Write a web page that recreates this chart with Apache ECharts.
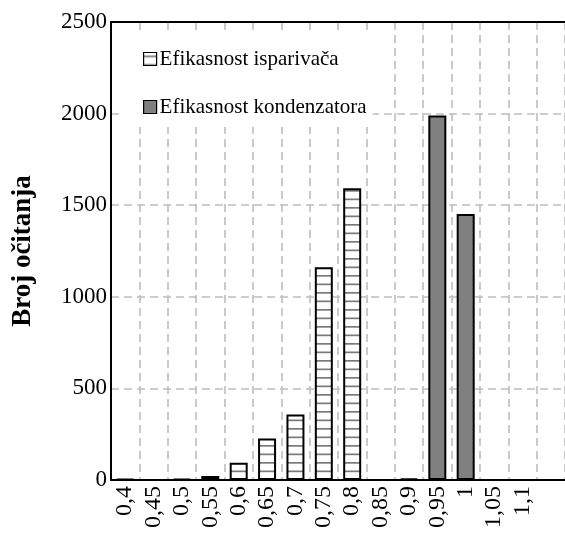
<!DOCTYPE html>
<html>
<head>
<meta charset="utf-8">
<script src="https://cdn.jsdelivr.net/npm/echarts@6/dist/echarts.min.js"></script>
<style>
  html, body { margin: 0; padding: 0; background: #fff; }
  #chart { width: 565px; height: 535px; }
</style>
</head>
<body>
<div id="chart"></div>
<script>
// Efficiency classes (last slot left blank, plot runs past 1,1)
const categories = ['0,4', '0,45', '0,5', '0,55', '0,6', '0,65', '0,7', '0,75', '0,8', '0,85', '0,9', '0,95', '1', '1,05', '1,1', ''];

// Number of readings per efficiency class
const isparivacValues = [6, 0, 6, 22, 94, 227, 357, 1161, 1592, 0, 8, 0, 0, 0, 0, 0];
const kondenzatorValues = [0, 0, 0, 0, 0, 0, 0, 0, 0, 0, 0, 1990, 1452, 0, 0, 0];

const yTicks = { min: 0, max: 2500, interval: 500 };

const seriesNames = ['Efikasnost isparivača', 'Efikasnost kondenzatora'];
const axisTitle = 'Broj očitanja';

const FONT = '"Liberation Serif", "Times New Roman", serif';

// Horizontal-stripe fill for the evaporator bars
function stripePattern() {
  const c = document.createElement('canvas');
  c.width = 16;
  c.height = 17;
  const ctx = c.getContext('2d');
  ctx.fillStyle = '#ffffff';
  ctx.fillRect(0, 0, c.width, c.height);
  ctx.fillStyle = '#7a7a7a';
  ctx.fillRect(0, 3, c.width, 1.7);
  ctx.fillRect(0, 11.5, c.width, 1.7);
  return c;
}

const chart = echarts.init(document.getElementById('chart'), null, { renderer: 'canvas' });

const gridLine = { color: '#bdbdbd', width: 1.6, type: [8, 5] };

chart.setOption({
  animation: false,
  backgroundColor: '#ffffff',
  textStyle: { fontFamily: FONT, color: '#000' },
  grid: { left: 111, top: 22, bottom: 55, right: -5, containLabel: false },
  legend: {
    orient: 'vertical',
    left: 120,
    top: 33,
    padding: [15, 6, 9, 23],
    backgroundColor: '#ffffff',
    itemWidth: 13,
    itemHeight: 13,
    itemGap: 26,
    icon: 'rect',
    itemStyle: { borderColor: '#000', borderWidth: 1.2 },
    textStyle: { fontFamily: FONT, fontSize: 21, color: '#000', lineHeight: 22, padding: [0, 0, 0, -2] },
    data: seriesNames
  },
  xAxis: [
    {
      type: 'category',
      data: categories,
      boundaryGap: true,
      axisLine: { lineStyle: { color: '#000', width: 2 } },
      axisTick: { show: false },
      axisLabel: {
        rotate: 90,
        interval: 0,
        margin: 6,
        fontFamily: FONT,
        fontSize: 24,
        color: '#000'
      },
      splitLine: { show: true, interval: 0, lineStyle: gridLine }
    },
    {
      type: 'category',
      data: categories,
      position: 'top',
      axisLine: { lineStyle: { color: '#000', width: 2 } },
      axisTick: { show: false },
      axisLabel: { show: false },
      splitLine: { show: false }
    }
  ],
  yAxis: {
    type: 'value',
    min: yTicks.min,
    max: yTicks.max,
    interval: yTicks.interval,
    name: axisTitle,
    nameLocation: 'middle',
    nameGap: 74,
    nameTextStyle: { fontFamily: FONT, fontSize: 27, fontWeight: 'bold', color: '#000' },
    axisLine: { show: true, lineStyle: { color: '#000', width: 2 } },
    axisTick: { show: false },
    axisLabel: {
      margin: 4,
      fontFamily: FONT,
      fontSize: 23,
      color: '#000',
      formatter: (v) => String(v)
    },
    splitLine: { show: true, lineStyle: gridLine }
  },
  series: [
    {
      name: seriesNames[0],
      type: 'bar',
      data: isparivacValues,
      barWidth: 18,
      barGap: '-100%',
      itemStyle: {
        color: { image: stripePattern(), repeat: 'repeat' },
        borderColor: '#000',
        borderWidth: 2
      }
    },
    {
      name: seriesNames[1],
      type: 'bar',
      data: kondenzatorValues,
      barWidth: 18,
      barGap: '-100%',
      itemStyle: {
        color: '#808080',
        borderColor: '#000',
        borderWidth: 2
      }
    }
  ]
});
</script>
</body>
</html>
